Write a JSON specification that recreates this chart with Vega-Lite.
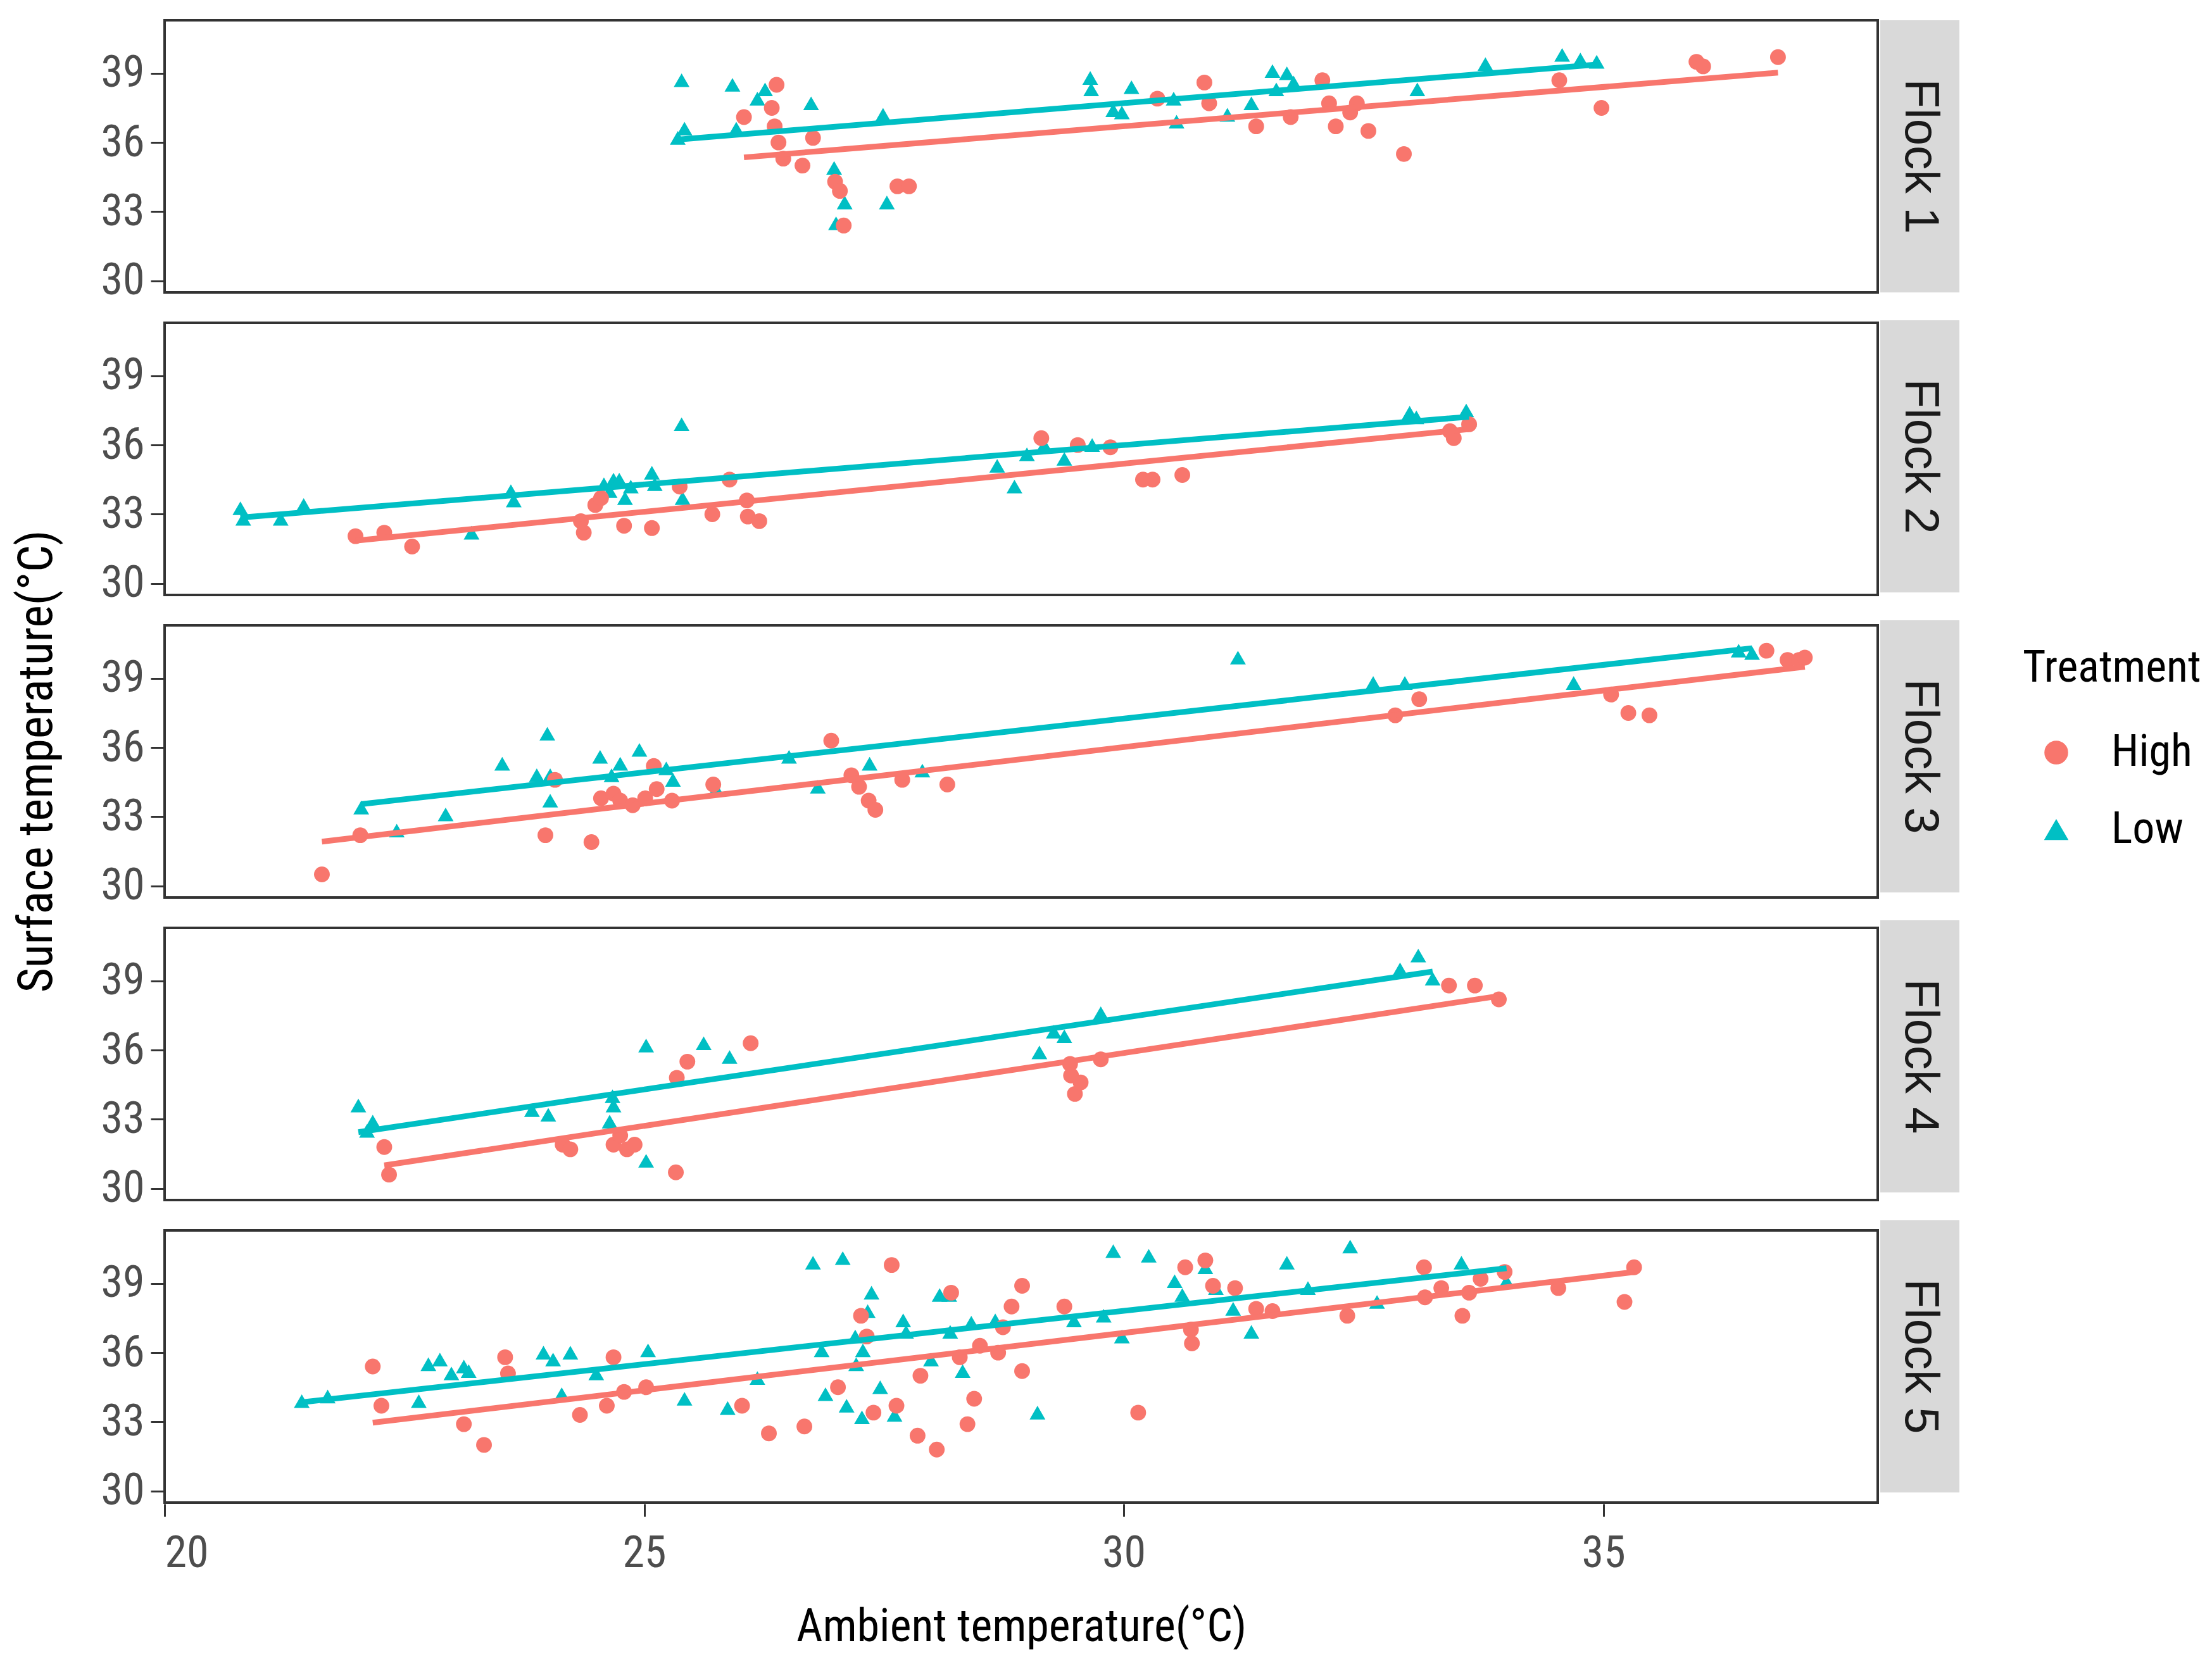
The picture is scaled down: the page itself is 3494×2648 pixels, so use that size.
{
  "$schema": "https://vega.github.io/schema/vega-lite/v6.json",
  "padding": {"left": 20, "top": 30, "right": 0, "bottom": 0},
  "background": "white",
  "datasets": {
    "temps": [
      {"Flock": "Flock 1", "Treatment": "Low", "Ambient": 25.39, "Surface": 38.7},
      {"Flock": "Flock 1", "Treatment": "Low", "Ambient": 25.42, "Surface": 36.6},
      {"Flock": "Flock 1", "Treatment": "Low", "Ambient": 25.35, "Surface": 36.2},
      {"Flock": "Flock 1", "Treatment": "Low", "Ambient": 25.92, "Surface": 38.5},
      {"Flock": "Flock 1", "Treatment": "Low", "Ambient": 25.96, "Surface": 36.6},
      {"Flock": "Flock 1", "Treatment": "Low", "Ambient": 26.18, "Surface": 37.9},
      {"Flock": "Flock 1", "Treatment": "Low", "Ambient": 26.26, "Surface": 38.3},
      {"Flock": "Flock 1", "Treatment": "Low", "Ambient": 26.74, "Surface": 37.7},
      {"Flock": "Flock 1", "Treatment": "Low", "Ambient": 26.98, "Surface": 34.9},
      {"Flock": "Flock 1", "Treatment": "Low", "Ambient": 27.0, "Surface": 32.5},
      {"Flock": "Flock 1", "Treatment": "Low", "Ambient": 27.09, "Surface": 33.4},
      {"Flock": "Flock 1", "Treatment": "Low", "Ambient": 27.49, "Surface": 37.2},
      {"Flock": "Flock 1", "Treatment": "Low", "Ambient": 27.53, "Surface": 33.4},
      {"Flock": "Flock 1", "Treatment": "Low", "Ambient": 29.65, "Surface": 38.8},
      {"Flock": "Flock 1", "Treatment": "Low", "Ambient": 29.66, "Surface": 38.3},
      {"Flock": "Flock 1", "Treatment": "Low", "Ambient": 29.89, "Surface": 37.4},
      {"Flock": "Flock 1", "Treatment": "Low", "Ambient": 29.98, "Surface": 37.3},
      {"Flock": "Flock 1", "Treatment": "Low", "Ambient": 30.08, "Surface": 38.4},
      {"Flock": "Flock 1", "Treatment": "Low", "Ambient": 30.52, "Surface": 37.9},
      {"Flock": "Flock 1", "Treatment": "Low", "Ambient": 30.55, "Surface": 36.9},
      {"Flock": "Flock 1", "Treatment": "Low", "Ambient": 31.08, "Surface": 37.2},
      {"Flock": "Flock 1", "Treatment": "Low", "Ambient": 31.33, "Surface": 37.7},
      {"Flock": "Flock 1", "Treatment": "Low", "Ambient": 31.55, "Surface": 39.1},
      {"Flock": "Flock 1", "Treatment": "Low", "Ambient": 31.59, "Surface": 38.3},
      {"Flock": "Flock 1", "Treatment": "Low", "Ambient": 31.7, "Surface": 39.0},
      {"Flock": "Flock 1", "Treatment": "Low", "Ambient": 31.77, "Surface": 38.6},
      {"Flock": "Flock 1", "Treatment": "Low", "Ambient": 33.06, "Surface": 38.3},
      {"Flock": "Flock 1", "Treatment": "Low", "Ambient": 33.77, "Surface": 39.4},
      {"Flock": "Flock 1", "Treatment": "Low", "Ambient": 34.57, "Surface": 39.8},
      {"Flock": "Flock 1", "Treatment": "Low", "Ambient": 34.76, "Surface": 39.6},
      {"Flock": "Flock 1", "Treatment": "Low", "Ambient": 34.93, "Surface": 39.5},
      {"Flock": "Flock 1", "Treatment": "High", "Ambient": 26.04, "Surface": 37.1},
      {"Flock": "Flock 1", "Treatment": "High", "Ambient": 26.38, "Surface": 38.5},
      {"Flock": "Flock 1", "Treatment": "High", "Ambient": 26.33, "Surface": 37.5},
      {"Flock": "Flock 1", "Treatment": "High", "Ambient": 26.36, "Surface": 36.7},
      {"Flock": "Flock 1", "Treatment": "High", "Ambient": 26.4, "Surface": 36.0},
      {"Flock": "Flock 1", "Treatment": "High", "Ambient": 26.45, "Surface": 35.3},
      {"Flock": "Flock 1", "Treatment": "High", "Ambient": 26.65, "Surface": 35.0},
      {"Flock": "Flock 1", "Treatment": "High", "Ambient": 26.76, "Surface": 36.2},
      {"Flock": "Flock 1", "Treatment": "High", "Ambient": 26.99, "Surface": 34.3},
      {"Flock": "Flock 1", "Treatment": "High", "Ambient": 27.04, "Surface": 33.9},
      {"Flock": "Flock 1", "Treatment": "High", "Ambient": 27.08, "Surface": 32.4},
      {"Flock": "Flock 1", "Treatment": "High", "Ambient": 27.64, "Surface": 34.1},
      {"Flock": "Flock 1", "Treatment": "High", "Ambient": 27.76, "Surface": 34.1},
      {"Flock": "Flock 1", "Treatment": "High", "Ambient": 30.35, "Surface": 37.9},
      {"Flock": "Flock 1", "Treatment": "High", "Ambient": 30.84, "Surface": 38.6},
      {"Flock": "Flock 1", "Treatment": "High", "Ambient": 30.89, "Surface": 37.7},
      {"Flock": "Flock 1", "Treatment": "High", "Ambient": 31.38, "Surface": 36.7},
      {"Flock": "Flock 1", "Treatment": "High", "Ambient": 31.74, "Surface": 37.1},
      {"Flock": "Flock 1", "Treatment": "High", "Ambient": 32.07, "Surface": 38.7},
      {"Flock": "Flock 1", "Treatment": "High", "Ambient": 32.14, "Surface": 37.7},
      {"Flock": "Flock 1", "Treatment": "High", "Ambient": 32.21, "Surface": 36.7},
      {"Flock": "Flock 1", "Treatment": "High", "Ambient": 32.36, "Surface": 37.3},
      {"Flock": "Flock 1", "Treatment": "High", "Ambient": 32.43, "Surface": 37.7},
      {"Flock": "Flock 1", "Treatment": "High", "Ambient": 32.55, "Surface": 36.5},
      {"Flock": "Flock 1", "Treatment": "High", "Ambient": 32.92, "Surface": 35.5},
      {"Flock": "Flock 1", "Treatment": "High", "Ambient": 34.54, "Surface": 38.7},
      {"Flock": "Flock 1", "Treatment": "High", "Ambient": 34.98, "Surface": 37.5},
      {"Flock": "Flock 1", "Treatment": "High", "Ambient": 35.97, "Surface": 39.5},
      {"Flock": "Flock 1", "Treatment": "High", "Ambient": 36.04, "Surface": 39.3},
      {"Flock": "Flock 1", "Treatment": "High", "Ambient": 36.82, "Surface": 39.7},

      {"Flock": "Flock 2", "Treatment": "Low", "Ambient": 20.79, "Surface": 33.26},
      {"Flock": "Flock 2", "Treatment": "Low", "Ambient": 20.82, "Surface": 32.8},
      {"Flock": "Flock 2", "Treatment": "Low", "Ambient": 21.21, "Surface": 32.8},
      {"Flock": "Flock 2", "Treatment": "Low", "Ambient": 21.45, "Surface": 33.4},
      {"Flock": "Flock 2", "Treatment": "Low", "Ambient": 23.2, "Surface": 32.2},
      {"Flock": "Flock 2", "Treatment": "Low", "Ambient": 23.61, "Surface": 34.0},
      {"Flock": "Flock 2", "Treatment": "Low", "Ambient": 23.64, "Surface": 33.6},
      {"Flock": "Flock 2", "Treatment": "Low", "Ambient": 24.58, "Surface": 34.3},
      {"Flock": "Flock 2", "Treatment": "Low", "Ambient": 24.64, "Surface": 34.0},
      {"Flock": "Flock 2", "Treatment": "Low", "Ambient": 24.68, "Surface": 34.5},
      {"Flock": "Flock 2", "Treatment": "Low", "Ambient": 24.74, "Surface": 34.5},
      {"Flock": "Flock 2", "Treatment": "Low", "Ambient": 24.8, "Surface": 33.7},
      {"Flock": "Flock 2", "Treatment": "Low", "Ambient": 24.86, "Surface": 34.2},
      {"Flock": "Flock 2", "Treatment": "Low", "Ambient": 25.08, "Surface": 34.8},
      {"Flock": "Flock 2", "Treatment": "Low", "Ambient": 25.11, "Surface": 34.3},
      {"Flock": "Flock 2", "Treatment": "Low", "Ambient": 25.39, "Surface": 36.9},
      {"Flock": "Flock 2", "Treatment": "Low", "Ambient": 25.4, "Surface": 33.7},
      {"Flock": "Flock 2", "Treatment": "Low", "Ambient": 28.68, "Surface": 35.1},
      {"Flock": "Flock 2", "Treatment": "Low", "Ambient": 28.86, "Surface": 34.2},
      {"Flock": "Flock 2", "Treatment": "Low", "Ambient": 28.99, "Surface": 35.6},
      {"Flock": "Flock 2", "Treatment": "Low", "Ambient": 29.17, "Surface": 36.0},
      {"Flock": "Flock 2", "Treatment": "Low", "Ambient": 29.38, "Surface": 35.4},
      {"Flock": "Flock 2", "Treatment": "Low", "Ambient": 29.67, "Surface": 36.0},
      {"Flock": "Flock 2", "Treatment": "Low", "Ambient": 32.98, "Surface": 37.4},
      {"Flock": "Flock 2", "Treatment": "Low", "Ambient": 33.05, "Surface": 37.2},
      {"Flock": "Flock 2", "Treatment": "Low", "Ambient": 33.57, "Surface": 37.5},
      {"Flock": "Flock 2", "Treatment": "Low", "Ambient": 33.6, "Surface": 37.1},
      {"Flock": "Flock 2", "Treatment": "High", "Ambient": 21.99, "Surface": 32.05},
      {"Flock": "Flock 2", "Treatment": "High", "Ambient": 22.29, "Surface": 32.2},
      {"Flock": "Flock 2", "Treatment": "High", "Ambient": 22.58, "Surface": 31.6},
      {"Flock": "Flock 2", "Treatment": "High", "Ambient": 24.34, "Surface": 32.7},
      {"Flock": "Flock 2", "Treatment": "High", "Ambient": 24.37, "Surface": 32.2},
      {"Flock": "Flock 2", "Treatment": "High", "Ambient": 24.49, "Surface": 33.4},
      {"Flock": "Flock 2", "Treatment": "High", "Ambient": 24.55, "Surface": 33.7},
      {"Flock": "Flock 2", "Treatment": "High", "Ambient": 24.79, "Surface": 32.5},
      {"Flock": "Flock 2", "Treatment": "High", "Ambient": 25.08, "Surface": 32.4},
      {"Flock": "Flock 2", "Treatment": "High", "Ambient": 25.37, "Surface": 34.2},
      {"Flock": "Flock 2", "Treatment": "High", "Ambient": 25.71, "Surface": 33.0},
      {"Flock": "Flock 2", "Treatment": "High", "Ambient": 25.89, "Surface": 34.5},
      {"Flock": "Flock 2", "Treatment": "High", "Ambient": 26.07, "Surface": 33.6},
      {"Flock": "Flock 2", "Treatment": "High", "Ambient": 26.08, "Surface": 32.9},
      {"Flock": "Flock 2", "Treatment": "High", "Ambient": 26.2, "Surface": 32.7},
      {"Flock": "Flock 2", "Treatment": "High", "Ambient": 29.14, "Surface": 36.3},
      {"Flock": "Flock 2", "Treatment": "High", "Ambient": 29.52, "Surface": 36.0},
      {"Flock": "Flock 2", "Treatment": "High", "Ambient": 29.86, "Surface": 35.9},
      {"Flock": "Flock 2", "Treatment": "High", "Ambient": 30.2, "Surface": 34.5},
      {"Flock": "Flock 2", "Treatment": "High", "Ambient": 30.3, "Surface": 34.5},
      {"Flock": "Flock 2", "Treatment": "High", "Ambient": 30.61, "Surface": 34.7},
      {"Flock": "Flock 2", "Treatment": "High", "Ambient": 33.4, "Surface": 36.6},
      {"Flock": "Flock 2", "Treatment": "High", "Ambient": 33.44, "Surface": 36.3},
      {"Flock": "Flock 2", "Treatment": "High", "Ambient": 33.6, "Surface": 36.9},

      {"Flock": "Flock 3", "Treatment": "Low", "Ambient": 22.05, "Surface": 33.4},
      {"Flock": "Flock 3", "Treatment": "Low", "Ambient": 22.42, "Surface": 32.4},
      {"Flock": "Flock 3", "Treatment": "Low", "Ambient": 22.93, "Surface": 33.1},
      {"Flock": "Flock 3", "Treatment": "Low", "Ambient": 23.52, "Surface": 35.3},
      {"Flock": "Flock 3", "Treatment": "Low", "Ambient": 23.88, "Surface": 34.8},
      {"Flock": "Flock 3", "Treatment": "Low", "Ambient": 23.99, "Surface": 36.6},
      {"Flock": "Flock 3", "Treatment": "Low", "Ambient": 24.02, "Surface": 34.8},
      {"Flock": "Flock 3", "Treatment": "Low", "Ambient": 24.02, "Surface": 33.7},
      {"Flock": "Flock 3", "Treatment": "Low", "Ambient": 24.54, "Surface": 35.6},
      {"Flock": "Flock 3", "Treatment": "Low", "Ambient": 24.66, "Surface": 34.8},
      {"Flock": "Flock 3", "Treatment": "Low", "Ambient": 24.75, "Surface": 35.3},
      {"Flock": "Flock 3", "Treatment": "Low", "Ambient": 24.95, "Surface": 35.9},
      {"Flock": "Flock 3", "Treatment": "Low", "Ambient": 25.23, "Surface": 35.1},
      {"Flock": "Flock 3", "Treatment": "Low", "Ambient": 25.3, "Surface": 34.6},
      {"Flock": "Flock 3", "Treatment": "Low", "Ambient": 25.75, "Surface": 34.2},
      {"Flock": "Flock 3", "Treatment": "Low", "Ambient": 26.51, "Surface": 35.6},
      {"Flock": "Flock 3", "Treatment": "Low", "Ambient": 26.81, "Surface": 34.3},
      {"Flock": "Flock 3", "Treatment": "Low", "Ambient": 27.35, "Surface": 35.3},
      {"Flock": "Flock 3", "Treatment": "Low", "Ambient": 27.9, "Surface": 35.0},
      {"Flock": "Flock 3", "Treatment": "Low", "Ambient": 31.19, "Surface": 39.9},
      {"Flock": "Flock 3", "Treatment": "Low", "Ambient": 32.6, "Surface": 38.8},
      {"Flock": "Flock 3", "Treatment": "Low", "Ambient": 32.93, "Surface": 38.8},
      {"Flock": "Flock 3", "Treatment": "Low", "Ambient": 34.69, "Surface": 38.8},
      {"Flock": "Flock 3", "Treatment": "Low", "Ambient": 36.41, "Surface": 40.2},
      {"Flock": "Flock 3", "Treatment": "Low", "Ambient": 36.55, "Surface": 40.1},
      {"Flock": "Flock 3", "Treatment": "High", "Ambient": 21.64, "Surface": 30.5},
      {"Flock": "Flock 3", "Treatment": "High", "Ambient": 22.04, "Surface": 32.2},
      {"Flock": "Flock 3", "Treatment": "High", "Ambient": 23.97, "Surface": 32.2},
      {"Flock": "Flock 3", "Treatment": "High", "Ambient": 24.45, "Surface": 31.9},
      {"Flock": "Flock 3", "Treatment": "High", "Ambient": 24.07, "Surface": 34.6},
      {"Flock": "Flock 3", "Treatment": "High", "Ambient": 24.55, "Surface": 33.8},
      {"Flock": "Flock 3", "Treatment": "High", "Ambient": 24.68, "Surface": 34.0},
      {"Flock": "Flock 3", "Treatment": "High", "Ambient": 24.75, "Surface": 33.7},
      {"Flock": "Flock 3", "Treatment": "High", "Ambient": 24.88, "Surface": 33.5},
      {"Flock": "Flock 3", "Treatment": "High", "Ambient": 25.01, "Surface": 33.8},
      {"Flock": "Flock 3", "Treatment": "High", "Ambient": 25.1, "Surface": 35.2},
      {"Flock": "Flock 3", "Treatment": "High", "Ambient": 25.13, "Surface": 34.2},
      {"Flock": "Flock 3", "Treatment": "High", "Ambient": 25.29, "Surface": 33.7},
      {"Flock": "Flock 3", "Treatment": "High", "Ambient": 25.72, "Surface": 34.4},
      {"Flock": "Flock 3", "Treatment": "High", "Ambient": 26.95, "Surface": 36.3},
      {"Flock": "Flock 3", "Treatment": "High", "Ambient": 27.16, "Surface": 34.8},
      {"Flock": "Flock 3", "Treatment": "High", "Ambient": 27.24, "Surface": 34.3},
      {"Flock": "Flock 3", "Treatment": "High", "Ambient": 27.34, "Surface": 33.7},
      {"Flock": "Flock 3", "Treatment": "High", "Ambient": 27.41, "Surface": 33.3},
      {"Flock": "Flock 3", "Treatment": "High", "Ambient": 27.69, "Surface": 34.6},
      {"Flock": "Flock 3", "Treatment": "High", "Ambient": 28.16, "Surface": 34.4},
      {"Flock": "Flock 3", "Treatment": "High", "Ambient": 32.83, "Surface": 37.4},
      {"Flock": "Flock 3", "Treatment": "High", "Ambient": 33.08, "Surface": 38.1},
      {"Flock": "Flock 3", "Treatment": "High", "Ambient": 35.08, "Surface": 38.3},
      {"Flock": "Flock 3", "Treatment": "High", "Ambient": 35.26, "Surface": 37.5},
      {"Flock": "Flock 3", "Treatment": "High", "Ambient": 35.48, "Surface": 37.4},
      {"Flock": "Flock 3", "Treatment": "High", "Ambient": 36.7, "Surface": 40.2},
      {"Flock": "Flock 3", "Treatment": "High", "Ambient": 36.92, "Surface": 39.8},
      {"Flock": "Flock 3", "Treatment": "High", "Ambient": 37.04, "Surface": 39.8},
      {"Flock": "Flock 3", "Treatment": "High", "Ambient": 37.1, "Surface": 39.9},

      {"Flock": "Flock 4", "Treatment": "Low", "Ambient": 22.02, "Surface": 33.6},
      {"Flock": "Flock 4", "Treatment": "Low", "Ambient": 22.11, "Surface": 32.5},
      {"Flock": "Flock 4", "Treatment": "Low", "Ambient": 22.17, "Surface": 32.9},
      {"Flock": "Flock 4", "Treatment": "Low", "Ambient": 23.83, "Surface": 33.4},
      {"Flock": "Flock 4", "Treatment": "Low", "Ambient": 24.0, "Surface": 33.2},
      {"Flock": "Flock 4", "Treatment": "Low", "Ambient": 24.67, "Surface": 34.0},
      {"Flock": "Flock 4", "Treatment": "Low", "Ambient": 24.68, "Surface": 33.6},
      {"Flock": "Flock 4", "Treatment": "Low", "Ambient": 24.64, "Surface": 32.9},
      {"Flock": "Flock 4", "Treatment": "Low", "Ambient": 25.02, "Surface": 36.2},
      {"Flock": "Flock 4", "Treatment": "Low", "Ambient": 25.02, "Surface": 31.2},
      {"Flock": "Flock 4", "Treatment": "Low", "Ambient": 25.62, "Surface": 36.3},
      {"Flock": "Flock 4", "Treatment": "Low", "Ambient": 25.89, "Surface": 35.7},
      {"Flock": "Flock 4", "Treatment": "Low", "Ambient": 29.12, "Surface": 35.9},
      {"Flock": "Flock 4", "Treatment": "Low", "Ambient": 29.27, "Surface": 36.8},
      {"Flock": "Flock 4", "Treatment": "Low", "Ambient": 29.38, "Surface": 36.6},
      {"Flock": "Flock 4", "Treatment": "Low", "Ambient": 29.76, "Surface": 37.6},
      {"Flock": "Flock 4", "Treatment": "Low", "Ambient": 32.88, "Surface": 39.5},
      {"Flock": "Flock 4", "Treatment": "Low", "Ambient": 33.07, "Surface": 40.1},
      {"Flock": "Flock 4", "Treatment": "Low", "Ambient": 33.22, "Surface": 39.1},
      {"Flock": "Flock 4", "Treatment": "High", "Ambient": 22.29, "Surface": 31.8},
      {"Flock": "Flock 4", "Treatment": "High", "Ambient": 22.34, "Surface": 30.6},
      {"Flock": "Flock 4", "Treatment": "High", "Ambient": 24.15, "Surface": 31.9},
      {"Flock": "Flock 4", "Treatment": "High", "Ambient": 24.23, "Surface": 31.7},
      {"Flock": "Flock 4", "Treatment": "High", "Ambient": 24.68, "Surface": 31.9},
      {"Flock": "Flock 4", "Treatment": "High", "Ambient": 24.75, "Surface": 32.3},
      {"Flock": "Flock 4", "Treatment": "High", "Ambient": 24.82, "Surface": 31.7},
      {"Flock": "Flock 4", "Treatment": "High", "Ambient": 24.9, "Surface": 31.9},
      {"Flock": "Flock 4", "Treatment": "High", "Ambient": 25.33, "Surface": 30.7},
      {"Flock": "Flock 4", "Treatment": "High", "Ambient": 25.34, "Surface": 34.8},
      {"Flock": "Flock 4", "Treatment": "High", "Ambient": 25.45, "Surface": 35.5},
      {"Flock": "Flock 4", "Treatment": "High", "Ambient": 26.11, "Surface": 36.3},
      {"Flock": "Flock 4", "Treatment": "High", "Ambient": 29.44, "Surface": 35.4},
      {"Flock": "Flock 4", "Treatment": "High", "Ambient": 29.45, "Surface": 34.9},
      {"Flock": "Flock 4", "Treatment": "High", "Ambient": 29.49, "Surface": 34.1},
      {"Flock": "Flock 4", "Treatment": "High", "Ambient": 29.55, "Surface": 34.6},
      {"Flock": "Flock 4", "Treatment": "High", "Ambient": 29.76, "Surface": 35.6},
      {"Flock": "Flock 4", "Treatment": "High", "Ambient": 33.39, "Surface": 38.8},
      {"Flock": "Flock 4", "Treatment": "High", "Ambient": 33.66, "Surface": 38.8},
      {"Flock": "Flock 4", "Treatment": "High", "Ambient": 33.91, "Surface": 38.2},

      {"Flock": "Flock 5", "Treatment": "Low", "Ambient": 21.43, "Surface": 33.9},
      {"Flock": "Flock 5", "Treatment": "Low", "Ambient": 21.7, "Surface": 34.1},
      {"Flock": "Flock 5", "Treatment": "Low", "Ambient": 22.65, "Surface": 33.9},
      {"Flock": "Flock 5", "Treatment": "Low", "Ambient": 22.75, "Surface": 35.5},
      {"Flock": "Flock 5", "Treatment": "Low", "Ambient": 22.87, "Surface": 35.7},
      {"Flock": "Flock 5", "Treatment": "Low", "Ambient": 22.99, "Surface": 35.1},
      {"Flock": "Flock 5", "Treatment": "Low", "Ambient": 23.12, "Surface": 35.4},
      {"Flock": "Flock 5", "Treatment": "Low", "Ambient": 23.17, "Surface": 35.2},
      {"Flock": "Flock 5", "Treatment": "Low", "Ambient": 23.95, "Surface": 36.0},
      {"Flock": "Flock 5", "Treatment": "Low", "Ambient": 24.05, "Surface": 35.7},
      {"Flock": "Flock 5", "Treatment": "Low", "Ambient": 24.23, "Surface": 36.0},
      {"Flock": "Flock 5", "Treatment": "Low", "Ambient": 24.14, "Surface": 34.2},
      {"Flock": "Flock 5", "Treatment": "Low", "Ambient": 24.5, "Surface": 35.1},
      {"Flock": "Flock 5", "Treatment": "Low", "Ambient": 25.04, "Surface": 36.1},
      {"Flock": "Flock 5", "Treatment": "Low", "Ambient": 25.42, "Surface": 34.0},
      {"Flock": "Flock 5", "Treatment": "Low", "Ambient": 25.87, "Surface": 33.6},
      {"Flock": "Flock 5", "Treatment": "Low", "Ambient": 26.18, "Surface": 34.9},
      {"Flock": "Flock 5", "Treatment": "Low", "Ambient": 26.76, "Surface": 39.9},
      {"Flock": "Flock 5", "Treatment": "Low", "Ambient": 26.85, "Surface": 36.1},
      {"Flock": "Flock 5", "Treatment": "Low", "Ambient": 26.89, "Surface": 34.2},
      {"Flock": "Flock 5", "Treatment": "Low", "Ambient": 27.07, "Surface": 40.1},
      {"Flock": "Flock 5", "Treatment": "Low", "Ambient": 27.11, "Surface": 33.7},
      {"Flock": "Flock 5", "Treatment": "Low", "Ambient": 27.2, "Surface": 36.7},
      {"Flock": "Flock 5", "Treatment": "Low", "Ambient": 27.21, "Surface": 35.5},
      {"Flock": "Flock 5", "Treatment": "Low", "Ambient": 27.27, "Surface": 33.2},
      {"Flock": "Flock 5", "Treatment": "Low", "Ambient": 27.28, "Surface": 36.1},
      {"Flock": "Flock 5", "Treatment": "Low", "Ambient": 27.33, "Surface": 37.8},
      {"Flock": "Flock 5", "Treatment": "Low", "Ambient": 27.37, "Surface": 38.6},
      {"Flock": "Flock 5", "Treatment": "Low", "Ambient": 27.46, "Surface": 34.5},
      {"Flock": "Flock 5", "Treatment": "Low", "Ambient": 27.61, "Surface": 33.3},
      {"Flock": "Flock 5", "Treatment": "Low", "Ambient": 27.7, "Surface": 37.4},
      {"Flock": "Flock 5", "Treatment": "Low", "Ambient": 27.73, "Surface": 36.9},
      {"Flock": "Flock 5", "Treatment": "Low", "Ambient": 27.99, "Surface": 35.7},
      {"Flock": "Flock 5", "Treatment": "Low", "Ambient": 28.08, "Surface": 38.5},
      {"Flock": "Flock 5", "Treatment": "Low", "Ambient": 28.18, "Surface": 38.5},
      {"Flock": "Flock 5", "Treatment": "Low", "Ambient": 28.19, "Surface": 36.9},
      {"Flock": "Flock 5", "Treatment": "Low", "Ambient": 28.32, "Surface": 35.2},
      {"Flock": "Flock 5", "Treatment": "Low", "Ambient": 28.41, "Surface": 37.3},
      {"Flock": "Flock 5", "Treatment": "Low", "Ambient": 28.66, "Surface": 37.4},
      {"Flock": "Flock 5", "Treatment": "Low", "Ambient": 29.1, "Surface": 33.4},
      {"Flock": "Flock 5", "Treatment": "Low", "Ambient": 29.48, "Surface": 37.4},
      {"Flock": "Flock 5", "Treatment": "Low", "Ambient": 29.79, "Surface": 37.6},
      {"Flock": "Flock 5", "Treatment": "Low", "Ambient": 29.89, "Surface": 40.4},
      {"Flock": "Flock 5", "Treatment": "Low", "Ambient": 29.98, "Surface": 36.7},
      {"Flock": "Flock 5", "Treatment": "Low", "Ambient": 30.26, "Surface": 40.2},
      {"Flock": "Flock 5", "Treatment": "Low", "Ambient": 30.53, "Surface": 39.1},
      {"Flock": "Flock 5", "Treatment": "Low", "Ambient": 30.61, "Surface": 38.5},
      {"Flock": "Flock 5", "Treatment": "Low", "Ambient": 30.85, "Surface": 39.7},
      {"Flock": "Flock 5", "Treatment": "Low", "Ambient": 30.96, "Surface": 38.8},
      {"Flock": "Flock 5", "Treatment": "Low", "Ambient": 31.14, "Surface": 37.9},
      {"Flock": "Flock 5", "Treatment": "Low", "Ambient": 31.33, "Surface": 36.9},
      {"Flock": "Flock 5", "Treatment": "Low", "Ambient": 31.7, "Surface": 39.9},
      {"Flock": "Flock 5", "Treatment": "Low", "Ambient": 31.92, "Surface": 38.8},
      {"Flock": "Flock 5", "Treatment": "Low", "Ambient": 32.36, "Surface": 40.6},
      {"Flock": "Flock 5", "Treatment": "Low", "Ambient": 32.64, "Surface": 38.2},
      {"Flock": "Flock 5", "Treatment": "Low", "Ambient": 33.52, "Surface": 39.9},
      {"Flock": "Flock 5", "Treatment": "Low", "Ambient": 33.99, "Surface": 39.1},
      {"Flock": "Flock 5", "Treatment": "High", "Ambient": 22.17, "Surface": 35.4},
      {"Flock": "Flock 5", "Treatment": "High", "Ambient": 22.26, "Surface": 33.7},
      {"Flock": "Flock 5", "Treatment": "High", "Ambient": 23.12, "Surface": 32.9},
      {"Flock": "Flock 5", "Treatment": "High", "Ambient": 23.33, "Surface": 32.0},
      {"Flock": "Flock 5", "Treatment": "High", "Ambient": 23.55, "Surface": 35.8},
      {"Flock": "Flock 5", "Treatment": "High", "Ambient": 23.58, "Surface": 35.1},
      {"Flock": "Flock 5", "Treatment": "High", "Ambient": 24.33, "Surface": 33.3},
      {"Flock": "Flock 5", "Treatment": "High", "Ambient": 24.61, "Surface": 33.7},
      {"Flock": "Flock 5", "Treatment": "High", "Ambient": 24.68, "Surface": 35.8},
      {"Flock": "Flock 5", "Treatment": "High", "Ambient": 24.79, "Surface": 34.3},
      {"Flock": "Flock 5", "Treatment": "High", "Ambient": 25.02, "Surface": 34.5},
      {"Flock": "Flock 5", "Treatment": "High", "Ambient": 26.02, "Surface": 33.7},
      {"Flock": "Flock 5", "Treatment": "High", "Ambient": 26.3, "Surface": 32.5},
      {"Flock": "Flock 5", "Treatment": "High", "Ambient": 26.67, "Surface": 32.8},
      {"Flock": "Flock 5", "Treatment": "High", "Ambient": 27.02, "Surface": 34.5},
      {"Flock": "Flock 5", "Treatment": "High", "Ambient": 27.26, "Surface": 37.6},
      {"Flock": "Flock 5", "Treatment": "High", "Ambient": 27.32, "Surface": 36.7},
      {"Flock": "Flock 5", "Treatment": "High", "Ambient": 27.39, "Surface": 33.4},
      {"Flock": "Flock 5", "Treatment": "High", "Ambient": 27.58, "Surface": 39.8},
      {"Flock": "Flock 5", "Treatment": "High", "Ambient": 27.63, "Surface": 33.7},
      {"Flock": "Flock 5", "Treatment": "High", "Ambient": 27.85, "Surface": 32.4},
      {"Flock": "Flock 5", "Treatment": "High", "Ambient": 27.88, "Surface": 35.0},
      {"Flock": "Flock 5", "Treatment": "High", "Ambient": 28.05, "Surface": 31.8},
      {"Flock": "Flock 5", "Treatment": "High", "Ambient": 28.2, "Surface": 38.6},
      {"Flock": "Flock 5", "Treatment": "High", "Ambient": 28.29, "Surface": 35.8},
      {"Flock": "Flock 5", "Treatment": "High", "Ambient": 28.37, "Surface": 32.9},
      {"Flock": "Flock 5", "Treatment": "High", "Ambient": 28.44, "Surface": 34.0},
      {"Flock": "Flock 5", "Treatment": "High", "Ambient": 28.5, "Surface": 36.3},
      {"Flock": "Flock 5", "Treatment": "High", "Ambient": 28.69, "Surface": 36.0},
      {"Flock": "Flock 5", "Treatment": "High", "Ambient": 28.74, "Surface": 37.1},
      {"Flock": "Flock 5", "Treatment": "High", "Ambient": 28.83, "Surface": 38.0},
      {"Flock": "Flock 5", "Treatment": "High", "Ambient": 28.94, "Surface": 38.9},
      {"Flock": "Flock 5", "Treatment": "High", "Ambient": 28.94, "Surface": 35.2},
      {"Flock": "Flock 5", "Treatment": "High", "Ambient": 29.38, "Surface": 38.0},
      {"Flock": "Flock 5", "Treatment": "High", "Ambient": 30.15, "Surface": 33.4},
      {"Flock": "Flock 5", "Treatment": "High", "Ambient": 30.64, "Surface": 39.7},
      {"Flock": "Flock 5", "Treatment": "High", "Ambient": 30.7, "Surface": 37.0},
      {"Flock": "Flock 5", "Treatment": "High", "Ambient": 30.71, "Surface": 36.4},
      {"Flock": "Flock 5", "Treatment": "High", "Ambient": 30.85, "Surface": 40.0},
      {"Flock": "Flock 5", "Treatment": "High", "Ambient": 30.93, "Surface": 38.9},
      {"Flock": "Flock 5", "Treatment": "High", "Ambient": 31.16, "Surface": 38.8},
      {"Flock": "Flock 5", "Treatment": "High", "Ambient": 31.38, "Surface": 37.9},
      {"Flock": "Flock 5", "Treatment": "High", "Ambient": 31.55, "Surface": 37.8},
      {"Flock": "Flock 5", "Treatment": "High", "Ambient": 32.33, "Surface": 37.6},
      {"Flock": "Flock 5", "Treatment": "High", "Ambient": 33.13, "Surface": 39.7},
      {"Flock": "Flock 5", "Treatment": "High", "Ambient": 33.14, "Surface": 38.4},
      {"Flock": "Flock 5", "Treatment": "High", "Ambient": 33.31, "Surface": 38.8},
      {"Flock": "Flock 5", "Treatment": "High", "Ambient": 33.53, "Surface": 37.6},
      {"Flock": "Flock 5", "Treatment": "High", "Ambient": 33.6, "Surface": 38.6},
      {"Flock": "Flock 5", "Treatment": "High", "Ambient": 33.72, "Surface": 39.2},
      {"Flock": "Flock 5", "Treatment": "High", "Ambient": 33.97, "Surface": 39.5},
      {"Flock": "Flock 5", "Treatment": "High", "Ambient": 34.53, "Surface": 38.8},
      {"Flock": "Flock 5", "Treatment": "High", "Ambient": 35.22, "Surface": 38.2},
      {"Flock": "Flock 5", "Treatment": "High", "Ambient": 35.32, "Surface": 39.7}
    ],
    "flocks": [
      {"Flock": "Flock 1"},
      {"Flock": "Flock 2"},
      {"Flock": "Flock 3"},
      {"Flock": "Flock 4"},
      {"Flock": "Flock 5"}
    ]
  },
  "hconcat": [
    {
      "data": {"name": "temps"},
      "facet": {
        "row": {
          "field": "Flock",
          "type": "nominal",
          "header": {
            "labels": false,
            "title": "Surface temperature(°C)",
            "titleFont": "Roboto Condensed, Liberation Sans Narrow, Liberation Sans, sans-serif",
            "titleFontSize": 76,
            "titleFontWeight": "normal",
            "titleColor": "black",
            "titlePadding": 50
          }
        }
      },
      "spacing": {"row": 44},
      "spec": {
        "width": 2706,
        "height": 430,
        "view": {"stroke": "#333333", "strokeWidth": 4},
        "encoding": {
          "x": {
            "field": "Ambient",
            "type": "quantitative",
            "scale": {"domain": [20, 37.86], "nice": false, "zero": false},
            "axis": {
              "title": "Ambient temperature(°C)",
              "values": [20, 25, 30, 35],
              "grid": false,
              "domain": false,
              "ticks": true,
              "tickSize": 20,
              "tickWidth": 3,
              "tickColor": "#333333",
              "labelPadding": 24,
              "titleFontSize": 72,
              "titlePadding": 46
            }
          },
          "y": {
            "field": "Surface",
            "type": "quantitative",
            "scale": {"domain": [29.5, 41.3], "nice": false, "zero": false},
            "axis": {
              "title": null,
              "values": [30, 33, 36, 39],
              "grid": false,
              "domain": false,
              "tickSize": 20,
              "tickWidth": 3,
              "tickColor": "#333333",
              "labelPadding": 10
            }
          },
          "color": {
            "field": "Treatment",
            "type": "nominal",
            "scale": {"domain": ["High", "Low"], "range": ["#F8766D", "#00BFC4"]},
            "legend": {
              "orient": "none",
              "legendX": 2935,
              "legendY": 990,
              "title": "Treatment",
              "titleFontSize": 70,
              "titleFontWeight": "normal",
              "titleColor": "black",
              "titleLimit": 0,
              "titlePadding": 62,
              "labelFontSize": 70,
              "labelColor": "black",
              "labelLimit": 0,
              "labelOffset": 52,
              "rowPadding": 52,
              "symbolSize": 1300,
              "symbolOffset": 18,
              "symbolOpacity": 1
            }
          }
        },
        "layer": [
          {
            "mark": {"type": "point", "filled": true, "opacity": 1, "size": 620},
            "encoding": {
              "shape": {
                "field": "Treatment",
                "type": "nominal",
                "scale": {"domain": ["High", "Low"], "range": ["circle", "triangle-up"]},
                "legend": null
              }
            }
          },
          {
            "transform": [
              {"regression": "Surface", "on": "Ambient", "groupby": ["Flock", "Treatment"]}
            ],
            "mark": {"type": "line", "strokeWidth": 9},
            "encoding": {}
          }
        ]
      }
    },
    {
      "data": {"name": "flocks"},
      "facet": {
        "row": {"field": "Flock", "type": "nominal", "header": {"labels": false, "title": null}}
      },
      "spacing": {"row": 44},
      "spec": {
        "width": 125,
        "height": 430,
        "view": {"fill": "#D9D9D9", "stroke": null},
        "mark": {
          "type": "text",
          "angle": 90,
          "font": "Liberation Sans",
          "fontSize": 76,
          "color": "#1A1A1A",
          "align": "center",
          "baseline": "middle"
        },
        "encoding": {"text": {"field": "Flock", "type": "nominal"}}
      }
    }
  ],
  "spacing": 2,
  "config": {
    "font": "Roboto Condensed, Liberation Sans Narrow, Liberation Sans, sans-serif",
    "axis": {
      "labelFont": "Roboto Condensed, Liberation Sans Narrow, Liberation Sans, sans-serif",
      "labelFontSize": 70,
      "labelColor": "#4D4D4D",
      "titleFont": "Roboto Condensed, Liberation Sans Narrow, Liberation Sans, sans-serif",
      "titleFontSize": 76,
      "titleFontWeight": "normal",
      "titleColor": "black"
    },
    "legend": {
      "labelFont": "Roboto Condensed, Liberation Sans Narrow, Liberation Sans, sans-serif",
      "titleFont": "Roboto Condensed, Liberation Sans Narrow, Liberation Sans, sans-serif"
    }
  }
}
